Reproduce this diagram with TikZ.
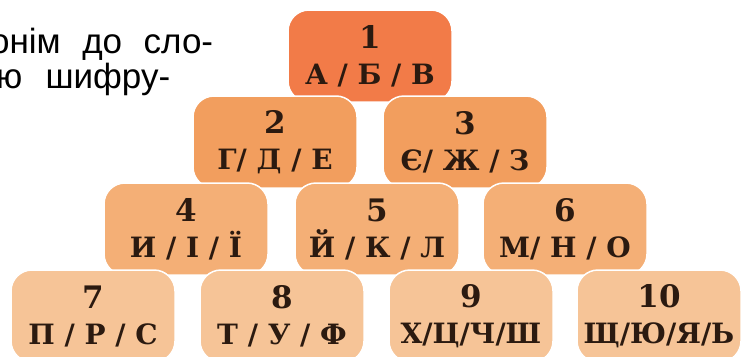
\documentclass[tikz,border=0pt]{standalone}
\usepackage{fontspec}
\setmainfont{DejaVu Serif}
\newfontfamily\textua{Liberation Sans}
\definecolor{ryad1}{HTML}{F27B48}
\definecolor{ryad2}{HTML}{F29E5E}
\definecolor{ryad3}{HTML}{F4AF76}
\definecolor{ryad4}{HTML}{F6C497}
\definecolor{bukva}{HTML}{2B1A10}
\newcommand\nomer[1]{{\fontsize{31}{35}\selectfont #1}}
\tikzset{
  klitka/.style = {rectangle, rounded corners=21pt, draw=white, line width=1.5pt,
                   minimum width=164pt, minimum height=92pt, inner sep=0pt,
                   align=center, text=bukva, font=\bfseries\fontsize{28}{36}\selectfont},
  zavd/.style   = {anchor=base west, inner sep=0pt, font=\textua\fontsize{35}{35}\selectfont}
}

\begin{document}
\begin{tikzpicture}[x=1pt,y=-1pt]
  \useasboundingbox (0,0) rectangle (743,356);
  \clip (0,0) rectangle (743,356);
  % text of the task, cut by the page edge
  \node[zavd] (t1) at (-10,53) {\makebox[223pt][s]{онім до сло-}};
  \node[zavd] (t2) at (-4,88) {\makebox[174pt][s]{ю шифру-}};
  % pyramid, top row first so that lower rows lie above
  \node[klitka, fill=ryad1] (b1)  at (370,56)  {\nomer{1}\\А / Б / В};
  \node[klitka, fill=ryad2] (b2)  at (275,142) {\nomer{2}\\Г/ Д / Е};
  \node[klitka, fill=ryad2] (b3)  at (465,142) {\nomer{3}\\Є/ Ж / З};
  \node[klitka, fill=ryad3] (b4)  at (186,229) {\nomer{4}\\И / І / Ї};
  \node[klitka, fill=ryad3] (b5)  at (377,229) {\nomer{5}\\Й / К / Л};
  \node[klitka, fill=ryad3] (b6)  at (565,229) {\nomer{6}\\М/ Н / О};
  \node[klitka, fill=ryad4] (b7)  at (93,316)  {\nomer{7}\\П / Р / С};
  \node[klitka, fill=ryad4] (b8)  at (282,316) {\nomer{8}\\Т / У / Ф};
  \node[klitka, fill=ryad4] (b9)  at (471,316) {\nomer{9}\\Х/Ц/Ч/Ш};
  \node[klitka, fill=ryad4] (b10) at (659,316) {\nomer{10}\\Щ/Ю/Я/Ь};
\end{tikzpicture}
\end{document}
